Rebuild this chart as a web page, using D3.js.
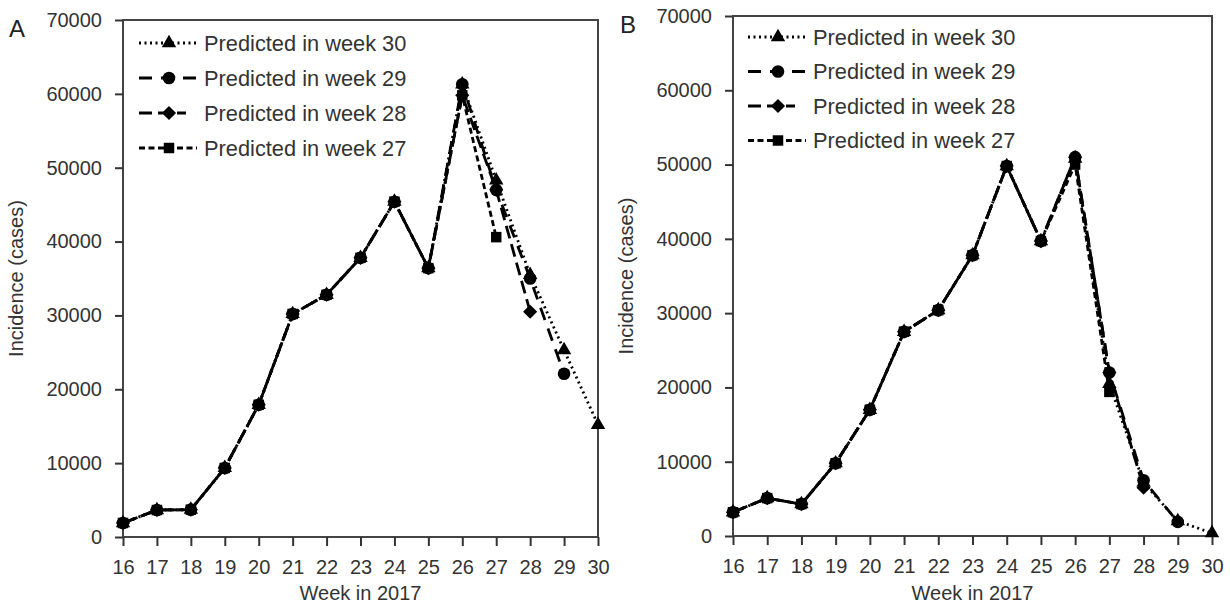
<!DOCTYPE html>
<html>
<head>
<meta charset="utf-8">
<script src="https://cdn.jsdelivr.net/npm/d3@7"></script>
<style>
  body { margin: 0; background: #fff; }
  svg { display: block; font-family: "Liberation Sans", Arial, sans-serif; }
  .axis path, .axis line { stroke: #333; stroke-width: 2; }
  .axis text { fill: #333; font-size: 20px; }
</style>
</head>
<body>
<svg id="chart" width="1230" height="605"></svg>
<script>
// weeks on the x axis
const weeks = [16, 17, 18, 19, 20, 21, 22, 23, 24, 25, 26, 27, 28, 29, 30];
const yTicks = [0, 10000, 20000, 30000, 40000, 50000, 60000, 70000];
const seriesNames = ['Predicted in week 30', 'Predicted in week 29', 'Predicted in week 28', 'Predicted in week 27'];

// panel A, values start at week 16
const aPred30 = [1900, 3650, 3700, 9350, 17900, 30200, 32800, 37800, 45400, 36400, 61300, 48300, 35500, 25300, 15200];
const aPred29 = [1900, 3650, 3700, 9350, 17900, 30200, 32800, 37800, 45400, 36400, 61300, 47000, 35000, 22100];
const aPred28 = [1900, 3650, 3700, 9350, 17900, 30200, 32800, 37800, 45400, 36400, 59800, 47000, 30500];
const aPred27 = [1900, 3650, 3700, 9350, 17900, 30200, 32800, 37800, 45400, 36400, 59800, 40600];

// panel B
const bPred30 = [3200, 5100, 4300, 9800, 17000, 27500, 30400, 37800, 49800, 39700, 50800, 20500, 7200, 2000, 400];
const bPred29 = [3200, 5100, 4300, 9800, 17000, 27500, 30400, 37800, 49800, 39700, 51000, 22000, 7500, 1900];
const bPred28 = [3200, 5100, 4300, 9800, 17000, 27500, 30400, 37800, 49800, 39700, 51000, 22000, 6500];
const bPred27 = [3200, 5100, 4300, 9800, 17000, 27500, 30400, 37800, 49800, 39700, 50000, 19400];

const styles = [
    { dash: '2,3.5', symbol: d3.symbolTriangle, size: 90, rotate: 0 },
    { dash: '13,9', symbol: d3.symbolCircle, size: 125, rotate: 0 },
    { dash: '13,6', symbol: d3.symbolSquare, size: 100, rotate: 45 },
    { dash: '6,3.5', symbol: d3.symbolSquare, size: 110, rotate: 0 }
];

const svg = d3.select('#chart');

function drawPanel(cfg) {
    const x = d3.scaleLinear().domain([16, 30]).range([cfg.left, cfg.right]);
    const y = d3.scaleLinear().domain([0, 70000]).range([cfg.bottom, cfg.top]);
    const g = svg.append('g');

    // frame
    g.append('rect')
        .attr('x', cfg.left).attr('y', cfg.top)
        .attr('width', cfg.right - cfg.left).attr('height', cfg.bottom - cfg.top)
        .attr('fill', 'none').attr('stroke', '#444').attr('stroke-width', 2);

    g.append('g')
        .attr('class', 'axis')
        .attr('transform', `translate(${cfg.left},0)`)
        .call(d3.axisLeft(y).tickValues(yTicks).tickSize(8).tickPadding(13).tickFormat(d3.format('d')))
        .call((s) => s.select('.domain').remove());

    g.append('g')
        .attr('class', 'axis')
        .attr('transform', `translate(0,${cfg.bottom})`)
        .call(d3.axisBottom(x).tickValues(weeks).tickSize(9).tickPadding(14).tickFormat(d3.format('d')))
        .call((s) => s.select('.domain').remove());

    const line = d3.line().x((d, i) => x(weeks[i])).y((d) => y(d));

    cfg.series.forEach((values, k) => {
        const st = styles[k];
        g.append('path')
            .datum(values)
            .attr('d', line)
            .attr('fill', 'none')
            .attr('stroke', '#000')
            .attr('stroke-width', 2.8)
            .attr('stroke-dasharray', st.dash);

        g.selectAll(null)
            .data(values)
            .join('path')
            .attr('transform', (d, i) => `translate(${x(weeks[i])},${y(d)}) rotate(${st.rotate})`)
            .attr('d', d3.symbol().type(st.symbol).size(st.size))
            .attr('fill', '#000');
    });

    // legend
    const lg = g.append('g');
    seriesNames.forEach((name, k) => {
        const st = styles[k];
        const ly = cfg.legendY + k * cfg.legendStep;
        const x1 = k === 2 ? cfg.legendX + 47 : cfg.legendX + 58;
        lg.append('line')
            .attr('x1', cfg.legendX).attr('x2', x1)
            .attr('y1', ly).attr('y2', ly)
            .attr('stroke', '#000').attr('stroke-width', 2.8)
            .attr('stroke-dasharray', st.dash);
        lg.append('path')
            .attr('transform', `translate(${cfg.legendX + 30},${ly}) rotate(${st.rotate})`)
            .attr('d', d3.symbol().type(st.symbol).size(st.size))
            .attr('fill', '#000');
        lg.append('text')
            .attr('x', cfg.legendX + 65).attr('y', ly)
            .attr('dy', '0.35em')
            .attr('font-size', 21.8)
            .attr('fill', '#333')
            .text(name);
    });

    g.append('text')
        .attr('transform', `translate(${cfg.left - 100},${(cfg.top + cfg.bottom) / 2}) rotate(-90)`)
        .attr('text-anchor', 'middle')
        .attr('font-size', 20)
        .attr('fill', '#333')
        .text('Incidence (cases)');

    g.append('text')
        .attr('x', (cfg.left + cfg.right) / 2).attr('y', 600)
        .attr('text-anchor', 'middle')
        .attr('font-size', 20)
        .attr('fill', '#333')
        .text('Week in 2017');

    g.append('text')
        .attr('x', cfg.labelX).attr('y', cfg.labelY)
        .attr('font-size', 24)
        .attr('fill', '#222')
        .text(cfg.label);
}

drawPanel({
    left: 123, right: 598, top: 20, bottom: 537,
    series: [aPred30, aPred29, aPred28, aPred27],
    legendX: 139, legendY: 43, legendStep: 35,
    label: 'A', labelX: 9, labelY: 37
});

drawPanel({
    left: 733, right: 1212, top: 16, bottom: 536,
    series: [bPred30, bPred29, bPred28, bPred27],
    legendX: 748, legendY: 37, legendStep: 34.5,
    label: 'B', labelX: 620, labelY: 33
});
</script>
</body>
</html>
